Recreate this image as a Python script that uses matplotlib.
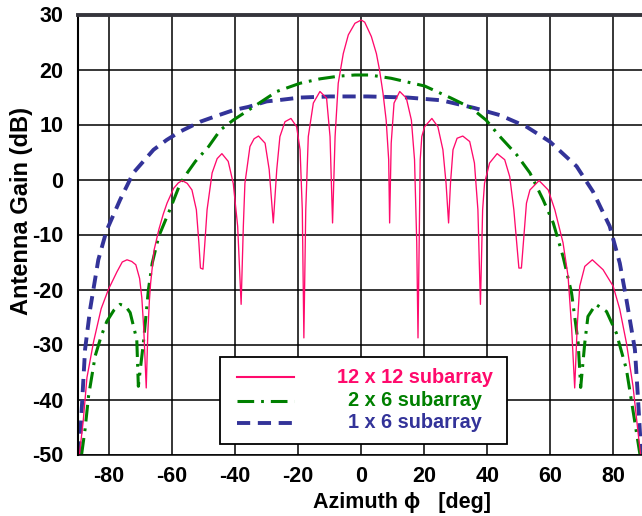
import numpy as np
import matplotlib
matplotlib.use("Agg")
import matplotlib.pyplot as plt
from matplotlib.patches import Rectangle

plt.rcParams['font.family'] = ['Liberation Sans', 'DejaVu Sans']
plt.rcParams['font.weight'] = 'bold'
plt.rcParams['axes.unicode_minus'] = False
plt.rcParams['lines.scale_dashes'] = False

# 12 x 12 subarray pattern (azimuth in deg, gain in dB)
az_12x12 = [-89.4, -88.2, -87.0, -84.9, -83.9, -82.5, -80.2, -77.5, -75.8, -74.3,
            -72.8, -71.5, -70.3, -69.6, -69.0, -68.2, -67.7, -67.2, -66.8, -65.7,
            -64.2, -62.8, -61.6, -59.5, -58.0, -56.8, -55.2, -53.7, -52.3, -51.5,
            -51.0, -50.2, -49.6, -48.9, -47.3, -45.7, -44.2, -42.2, -40.6, -39.2,
            -38.1, -37.4, -36.9, -35.3, -34.0, -32.6, -30.5, -29.2, -27.9, -26.8,
            -25.8, -24.2, -22.3, -20.5, -19.4, -18.7, -18.2, -17.6, -16.8, -15.2,
            -13.1, -11.0, -9.9, -9.1, -8.3, -7.3, -5.7, -4.1, -2.0, 0.0,
            1.1, 3.2, 4.8, 5.8, 6.9, 7.9, 8.7, 9.0, 9.5, 10.4,
            12.2, 14.3, 15.9, 16.9, 17.6, 18.0, 18.7, 19.2, 20.1, 22.4,
            24.3, 25.9, 26.9, 27.7, 28.3, 29.1, 30.4, 32.2, 34.4, 35.9,
            37.0, 37.8, 38.5, 39.1, 40.7, 43.1, 45.5, 47.1, 48.4, 49.3,
            50.0, 50.8, 51.6, 52.4, 53.5, 56.4, 59.3, 61.4, 64.0, 65.6,
            66.7, 67.7, 68.5, 69.3, 70.9, 73.3, 76.7, 79.9, 82.0, 84.1,
            86.2, 87.8, 88.6]
gain_12x12 = [-50.0, -44.0, -36.0, -29.5, -27.0, -23.5, -20.0, -16.8, -15.0, -14.6,
              -14.9, -15.5, -18.0, -21.5, -27.0, -37.9, -27.9, -22.0, -18.8, -12.8,
              -9.1, -6.3, -4.3, -1.6, -0.6, -0.2, -0.7, -1.9, -5.5, -11.5,
              -16.1, -16.3, -11.5, -5.5, 1.2, 3.8, 4.7, 3.3, -0.7, -8.5,
              -22.7, -8.5, -0.7, 6.0, 7.4, 7.9, 6.6, 1.8, -7.9, 1.8,
              7.8, 10.5, 11.1, 9.6, 5.4, -5.5, -28.8, -5.5, 7.8, 13.9,
              16.0, 14.8, 7.8, -7.9, 7.8, 17.5, 22.9, 26.3, 28.4, 29.0,
              28.6, 26.0, 22.9, 19.9, 15.7, 10.8, 3.6, -7.9, 6.6, 13.9,
              16.0, 14.8, 10.8, 3.6, -11.5, -28.8, 3.6, 7.8, 9.6, 11.1,
              9.6, 5.4, -0.7, -7.9, -0.7, 5.4, 7.5, 7.9, 6.9, 3.0,
              -5.5, -22.7, -5.5, -0.7, 3.0, 4.7, 3.6, 0.5, -5.5, -11.5,
              -16.1, -16.1, -10.3, -4.3, -1.9, -0.2, -1.9, -5.5, -11.5, -17.6,
              -26.7, -37.9, -26.7, -19.4, -15.8, -14.6, -16.4, -19.4, -23.6, -29.7,
              -37.6, -46.0, -50.0]

# 2 x 6 subarray pattern
az_2x6 = [-88.7, -87.6, -86.5, -84.4, -82.5, -80.7, -78.5, -76.5, -74.8, -73.3,
          -71.2, -70.7, -69.1, -67.5, -66.3, -64.2, -60.5, -57.4, -55.2, -52.6,
          -48.4, -44.7, -40.6, -34.2, -26.8, -19.4, -13.1, -7.0, -2.0, 2.7,
          9.5, 14.8, 20.1, 28.5, 34.9, 39.6, 44.0, 49.3, 53.5, 57.7,
          60.9, 64.0, 66.7, 68.8, 69.6, 70.9, 71.9, 74.4, 77.8, 80.9,
          84.1, 86.8, 88.4]
gain_2x6 = [-50.0, -45.4, -39.4, -32.1, -28.5, -25.8, -23.8, -22.7, -23.0, -24.2,
            -29.1, -37.6, -29.7, -20.0, -15.2, -10.3, -5.2, -0.7, 1.2, 3.3,
            6.0, 9.0, 10.8, 13.2, 16.0, 17.5, 18.3, 18.8, 19.0, 19.0,
            18.4, 17.7, 17.0, 14.8, 13.0, 10.8, 7.8, 4.5, 1.2, -3.7,
            -7.9, -14.0, -20.6, -29.7, -37.8, -29.7, -24.9, -22.7, -24.0, -27.9,
            -34.5, -44.2, -50.0]

# 1 x 6 subarray pattern
az_1x6 = [-89.6, -89.1, -87.6, -86.0, -83.4, -80.8, -76.5, -72.3, -65.9, -61.7,
          -57.5, -51.1, -45.7, -40.6, -35.8, -30.0, -25.2, -19.4, -14.7, -9.9,
          -2.0, 2.1, 14.8, 25.4, 35.9, 44.0, 52.4, 59.8, 68.3, 73.5,
          78.8, 82.0, 84.1, 86.8, 87.8, 88.8]
gain_1x6 = [-50.0, -46.3, -30.9, -23.6, -14.6, -9.3, -3.7, 1.2, 5.4, 7.2,
            8.7, 10.5, 11.6, 12.6, 13.2, 14.2, 14.5, 14.9, 15.0, 15.1,
            15.1, 15.1, 14.9, 14.4, 13.0, 11.7, 9.6, 6.9, 2.4, -2.2,
            -8.5, -15.2, -21.8, -30.9, -40.0, -50.0]

labels = ['12 x 12 subarray', '2 x 6 subarray', '1 x 6 subarray']
colors = ['#ff0a6c', '#008000', '#333399']

fig = plt.figure(figsize=(6.42, 5.16), dpi=100)
ax = fig.add_axes([77.5 / 642, 61.5 / 516, 567.5 / 642, 440 / 516])

# line styles for the three patterns
styles = [dict(lw=0.95, ls='-'),
          dict(lw=2.2, ls=(0, (12, 5, 2, 5))),
          dict(lw=2.8, ls=(0, (9.5, 5.5)))]

ax.plot(az_1x6, gain_1x6, color=colors[2], dash_capstyle='butt', **styles[2])
ax.plot(az_2x6, gain_2x6, color=colors[1], dash_capstyle='butt', **styles[1])
ax.plot(az_12x12, gain_12x12, color=colors[0], **styles[0])

ax.set_xlim(-90, 90)
ax.set_ylim(-50, 30)
ax.set_xticks(np.arange(-80, 81, 20))
ax.set_yticks(np.arange(-50, 31, 10))
ax.set_axisbelow(True)
ax.grid(True, color='black', lw=1.1)
ax.tick_params(length=0, labelsize=15.5)
ax.tick_params(axis='y', pad=10)
ax.tick_params(axis='x', pad=8)

ax.spines['top'].set_linewidth(2.8)
ax.spines['top'].set_color('#35353c')
ax.spines['left'].set_linewidth(1.5)
ax.spines['bottom'].set_linewidth(1.1)
ax.spines['right'].set_visible(False)

ax.set_xlabel('Azimuth ϕ   [deg]', fontsize=15.5, fontweight='bold')
ax.xaxis.set_label_coords(0.572, -0.108)
ax.xaxis.label.set_va('center')
ax.set_ylabel('Antenna Gain (dB)', fontsize=17, fontweight='bold')
ax.yaxis.set_label_coords(-0.098, 0.554)
ax.yaxis.label.set_va('center')

# legend box drawn by hand: sample lines on the left, centred coloured text
ax.add_patch(Rectangle((0.2506, 0.0232), 0.5068, 0.1977, transform=ax.transAxes,
                       facecolor='white', edgecolor='black', lw=1.3, zorder=5))
line_rows = [0.1768, 0.1223, 0.0723]
text_rows = [0.1618, 0.1109, 0.0609]
for i in range(3):
    key_style = dict(styles[i])
    if i == 0:
        key_style['lw'] = 1.5
    ax.plot([0.2805, 0.3820], [line_rows[i], line_rows[i]], transform=ax.transAxes,
            color=colors[i], dash_capstyle='butt', zorder=6, **key_style)
    ax.text(0.5947, text_rows[i], labels[i], transform=ax.transAxes, color=colors[i],
            fontsize=14.3, fontweight='bold', ha='center', va='baseline', zorder=6)

fig.savefig('out.png', dpi=100)
